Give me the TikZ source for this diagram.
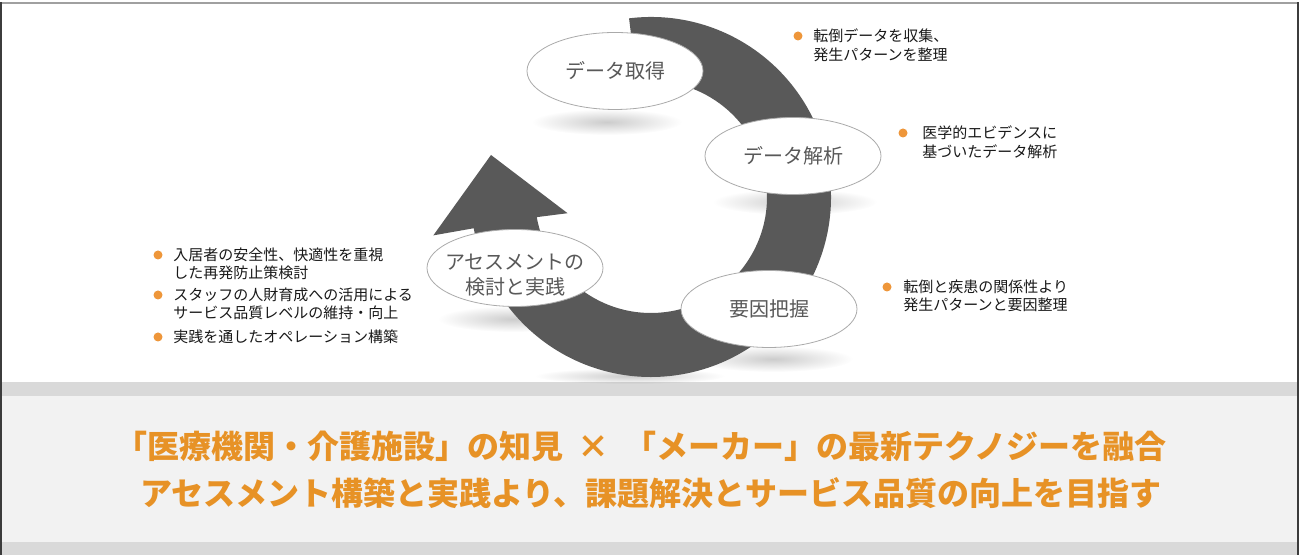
\documentclass[tikz,border=0pt]{standalone}
\usepackage{fontspec}
\setmainfont{Noto Sans CJK JP}
\usetikzlibrary{positioning,calc,shapes.geometric,fadings}

\definecolor{bandgray}{RGB}{89,89,89}
\definecolor{rimgray}{RGB}{170,170,170}
\definecolor{capgray}{RGB}{89,89,89}
\definecolor{notegray}{RGB}{25,25,25}
\definecolor{dotorange}{RGB}{238,150,58}
\definecolor{mainorange}{RGB}{231,146,38}
\definecolor{panelgray}{RGB}{242,242,242}
\definecolor{stripgray}{RGB}{217,217,217}
\definecolor{edgegray}{RGB}{60,60,60}
\definecolor{topgray}{RGB}{160,160,160}

\tikzfading[name=softblob, inner color=transparent!0, outer color=transparent!100]

\begin{document}
\begin{tikzpicture}[x=0.5pt, y=0.5pt,
        bubble/.style={ellipse, draw=rimgray, fill=white, minimum width=88pt, minimum height=38.5pt, inner sep=0pt, text=capgray, font=\fontsize{10pt}{12.5pt}\selectfont},
        caption/.style={inner sep=0pt, text=capgray, align=center, font=\fontsize{10pt}{12.5pt}\selectfont},
        note/.style={anchor=west, inner sep=0pt, text=notegray, align=left, font=\fontsize{7.5pt}{9.3pt}\selectfont},
        dot/.style={circle, fill=dotorange, inner sep=0pt, minimum size=4.5pt},
        blob/.style={black, opacity=0.2, path fading=softblob},
        headline/.style={inner sep=0pt, text=mainorange, font=\fontsize{16pt}{20pt}\selectfont\bfseries}
    ]
    \useasboundingbox (0,0) rectangle (1303,555);
    \fill[white] (0,0) rectangle (1303,555);

    % Bottom panel and frame
    \fill[stripgray] (0,159) rectangle (1299,173);
    \fill[panelgray] (0,13) rectangle (1299,159);
    \fill[stripgray] (0,0) rectangle (1299,13);
    \draw[topgray, line width=0.8pt] (0,552) -- (1299,552);
    \draw[edgegray, line width=1pt] (1,0) -- (1,553);
    \draw[edgegray, line width=1pt] (1298,0) -- (1298,553);

    % Soft shadows
    \fill[blob] (607,433) ellipse (75 and 13);
    \fill[blob] (795,353) ellipse (82 and 13);
    \fill[blob] (513,236) ellipse (75 and 13);
    \fill[blob] (773,196) ellipse (80 and 13);
    \fill[blob] (630,179) ellipse (95 and 8);

    % Cycle arrow
    \coordinate (C) at (651,358);
    \coordinate (tip) at (491,400);
    \fill[bandgray] ($(C)+(97:180)$) arc[start angle=97, end angle=-170, radius=90pt]
        -- ($(C)+(190:221)$) -- (tip) -- ($(C)+(191:85)$) -- ($(C)+(190:116)$)
        arc[start angle=190, end angle=457, radius=58pt] -- cycle;

    % Stages
    \node[bubble] (E1) at (615,484) {データ取得};
    \node[bubble] (E2) at (793,399) {データ解析};
    \node[bubble] (E3) at (515,287) {};
    \node[caption] (T3) at (515,280) {アセスメントの\\検討と実践};
    \node[bubble] (E4) at (769,246) {要因把握};

    % Notes
    \node[dot] (D1) at (798,519) {};
    \node[note] (N1) at (813,510) {転倒データを収集、\\発生パターンを整理};
    \node[dot] (D2) at (903,422) {};
    \node[note] (N2) at (922,412.5) {医学的エビデンスに\\基づいたデータ解析};
    \node[dot] (D3) at (887,268) {};
    \node[note] (N3) at (903,259) {転倒と疾患の関係性より\\発生パターンと要因整理};
    \node[dot] (D4) at (158,300) {};
    \node[note] (N4) at (173,291) {入居者の安全性、快適性を重視\\した再発防止策検討};
    \node[dot] (D5) at (158,260) {};
    \node[note] (N5) at (173,251) {スタッフの人財育成への活用による\\サービス品質レベルの維持・向上};
    \node[dot] (D6) at (158,218) {};
    \node[note] (N6) at (173,218) {実践を通したオペレーション構築};

    % Message
    \node[headline] (H1) at (641,109) {「医療機関・介護施設」の知見\ \ ×\ \ 「メーカー」の最新テクノジーを融合};
    \node[headline] (H2) at (651,62) {アセスメント構築と実践より、課題解決とサービス品質の向上を目指す};
\end{tikzpicture}
\end{document}
